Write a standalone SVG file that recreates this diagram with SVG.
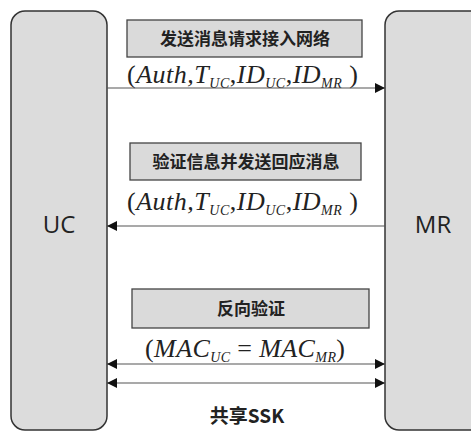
<svg xmlns="http://www.w3.org/2000/svg" width="471" height="432" viewBox="0 0 471 432">
<defs>
<style>
.ent{fill:#dcdcdc;stroke:#333;stroke-width:1.5}
.box{fill:#dadada;stroke:#444;stroke-width:1.3}
.cn{font-family:"Noto Sans CJK SC","Noto Sans",sans-serif;font-weight:bold;font-size:17px;fill:#222;text-anchor:middle}
.name{font-family:"Open Sans","Noto Sans",sans-serif;font-size:24px;fill:#222;text-anchor:middle}
.math{font-family:"Liberation Serif","Times New Roman",serif;font-size:26px;fill:#222}
.it{font-style:italic}
.sub{font-size:14px;font-style:italic}
.conn{stroke:#555;stroke-width:1.2;fill:none}
</style>
<marker id="ah" viewBox="0 0 10 10" refX="10" refY="5" markerWidth="10" markerHeight="10" markerUnits="userSpaceOnUse" orient="auto-start-reverse">
<path d="M0,0 L10,5 L0,10 z" fill="#111"/>
</marker>
</defs>
<rect width="471" height="432" fill="#fff"/>
<g id="uc">
<rect class="ent" x="11" y="11" width="96" height="419" rx="14"/>
<text class="name" x="59" y="233">UC</text>
</g>
<g id="mr">
<rect class="ent" x="385" y="11" width="100" height="419" rx="14"/>
<text class="name" x="433" y="233">MR</text>
</g>
<g id="step1">
<rect class="box" x="127" y="20" width="235" height="37"/>
<text class="cn" x="245" y="45">发送消息请求接入网络</text>
<text class="math" x="127" y="83" textLength="231" lengthAdjust="spacing">(<tspan class="it">Auth,T</tspan><tspan class="sub" dy="5">UC</tspan><tspan dy="-5">,</tspan><tspan class="it">ID</tspan><tspan class="sub" dy="5">UC</tspan><tspan dy="-5">,</tspan><tspan class="it">ID</tspan><tspan class="sub" dy="5">MR</tspan><tspan dy="-5"> )</tspan></text>
</g>
<g id="step2">
<rect class="box" x="130" y="143" width="231" height="37"/>
<text class="cn" x="246" y="168">验证信息并发送回应消息</text>
<text class="math" x="127" y="210" textLength="231" lengthAdjust="spacing">(<tspan class="it">Auth,T</tspan><tspan class="sub" dy="5">UC</tspan><tspan dy="-5">,</tspan><tspan class="it">ID</tspan><tspan class="sub" dy="5">UC</tspan><tspan dy="-5">,</tspan><tspan class="it">ID</tspan><tspan class="sub" dy="5">MR</tspan><tspan dy="-5"> )</tspan></text>
</g>
<g id="step3">
<rect class="box" x="132" y="289" width="237" height="39"/>
<text class="cn" x="251" y="315">反向验证</text>
<text class="math" x="145" y="357" textLength="200" lengthAdjust="spacing">(<tspan class="it">MAC</tspan><tspan class="sub" dy="5">UC</tspan><tspan dy="-5"> = </tspan><tspan class="it">MAC</tspan><tspan class="sub" dy="5">MR</tspan><tspan dy="-5">)</tspan></text>
</g>
<g id="ssk">
<text class="cn" x="247" y="423" style="font-size:19px">共享SSK</text>
</g>
<g id="connectors">
<line class="conn" x1="107" y1="88" x2="385" y2="88" marker-end="url(#ah)"/>
<line class="conn" x1="385" y1="226" x2="107" y2="226" marker-end="url(#ah)"/>
<line class="conn" x1="107" y1="364" x2="385" y2="364" marker-start="url(#ah)" marker-end="url(#ah)"/>
<line class="conn" x1="107" y1="383" x2="385" y2="383" marker-start="url(#ah)" marker-end="url(#ah)"/>
</g>
</svg>
